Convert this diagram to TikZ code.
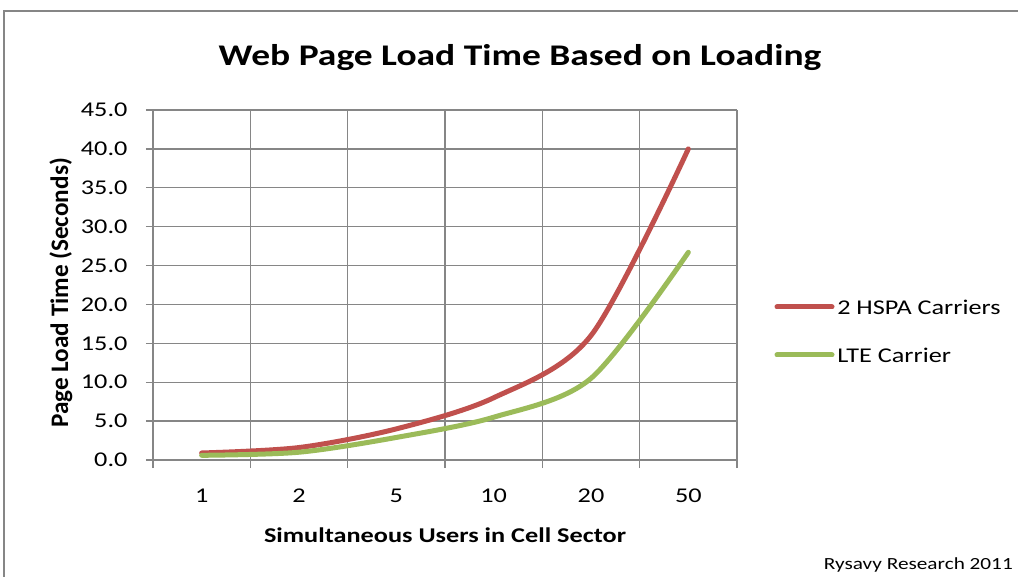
\documentclass[tikz,border=0pt]{standalone}
\usepackage{fontspec}
\setmainfont{Carlito}
\definecolor{hspa}{HTML}{C0504D}
\definecolor{lte}{HTML}{9BBB59}
\definecolor{gridgray}{HTML}{868686}
\tikzset{
  txt/.style={inner sep=0pt,xscale=1.25,font=\fontsize{21}{25}\selectfont},
  bold txt/.style={txt,font=\fontsize{21}{25}\selectfont\bfseries},
  gridline/.style={gridgray,line width=1.3pt},
  curve/.style={line width=5pt,line cap=round,line join=round}
}
\begin{document}
\begin{tikzpicture}[x=1pt,y=1pt]
\useasboundingbox (0,0) rectangle (1018,577);
\fill[white] (0,0) rectangle (1018,577);
\draw[gridgray,line width=1.3pt] (4,-10) -- (4,566) -- (1030,566);
\node[txt,font=\fontsize{30}{36}\selectfont\bfseries] (TT) at (520,519) {Web Page Load Time Based on Loading};
\begin{scope}[shift={(153,117)},x=97.333pt,y=7.7778pt]
\foreach \v in {0,5,...,45} {
  \draw[gridline] (-0.072,\v) -- (6,\v);
  \node[txt,anchor=east] (Y\v) at (-0.26,\v) {\v.0};
}
\foreach \i in {0,...,6}
  \draw[gridline] (\i,-1.03) -- (\i,45);
\foreach \l [count=\i] in {1,2,5,10,20,50}
  \node[txt] (X\i) at (\i-0.5,-4.6) {\l};
\draw[curve,hspa] plot[smooth,tension=0.5] coordinates {(0.5,0.9) (1.5,1.6) (2.5,4.0) (3.5,8.0) (4.5,16.0) (5.5,40.0)};
\draw[curve,lte] plot[smooth,tension=0.5] coordinates {(0.5,0.6) (1.5,1.0) (2.5,2.9) (3.5,5.5) (4.5,10.5) (5.5,26.7)};
\end{scope}
\node[bold txt] (XT) at (445,42) {Simultaneous Users in Cell Sector};
\node[inner sep=0pt,font=\fontsize{21}{25}\selectfont\bfseries,rotate=90,xscale=1.2,yscale=1.2] (YT) at (61,284) {Page Load Time (Seconds)};
\draw[curve,hspa] (777,270) -- (832,270);
\node[txt,anchor=west] (L1) at (837,270) {2 HSPA Carriers};
\draw[curve,lte] (777,222) -- (832,222);
\node[txt,anchor=west] (L2) at (837,222) {LTE Carrier};
\node[txt,anchor=east,font=\fontsize{17}{20}\selectfont] (RR) at (1013,12) {Rysavy Research 2011};
\end{tikzpicture}
\end{document}
